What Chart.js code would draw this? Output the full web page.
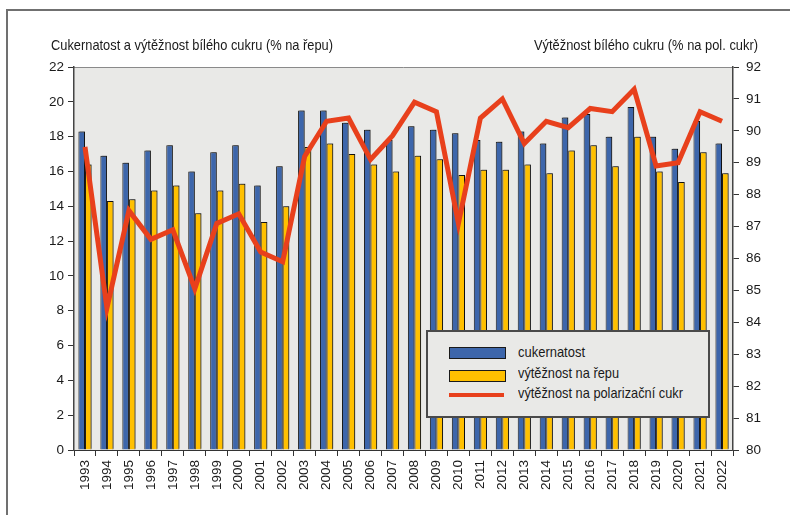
<!DOCTYPE html>
<html>
<head>
<meta charset="utf-8">
<script src="https://cdn.jsdelivr.net/npm/chart.js@4"></script>
<style>
  body { margin: 0; background: #fff; font-family: "Liberation Sans", Arial, sans-serif; }
  #wrap { position: relative; width: 790px; height: 515px; overflow: hidden; }
  #frame { position: absolute; left: 6px; top: 9px; width: 2000px; height: 2000px; border: 2px solid #707070; }
  .ttl { position: absolute; top: 36px; font-size: 15px; color: #1a1a1a; white-space: nowrap; transform-origin: 0 0; }
  #legend { position: absolute; left: 426px; top: 330px; width: 280px; height: 84px; background: #e9e9e7; border: 2px solid #4a4a4a; }
  .sw { position: absolute; left: 21px; width: 55px; height: 10px; border: 1px solid #1a1a1a; }
  .lt { position: absolute; left: 90px; font-size: 15px; color: #1a1a1a; white-space: nowrap; transform-origin: 0 0; }
</style>
</head>
<body>
<div id="wrap">
  <div id="frame"></div>
  <canvas id="chart" width="790" height="515" style="position:absolute;left:0;top:0"></canvas>
  <div class="ttl fit" data-w="282" style="left:51px">Cukernatost a výtěžnost bílého cukru (% na řepu)</div>
  <div class="ttl fit" data-w="224" style="left:534px">Výtěžnost bílého cukru (% na pol. cukr)</div>
  <div id="legend">
    <div class="sw" style="top:15px;background:#3d66ab"></div>
    <div class="lt fit" data-w="67" style="top:11px">cukernatost</div>
    <div class="sw" style="top:38px;background:#ffc000"></div>
    <div class="lt fit" data-w="101" style="top:32px">výtěžnost na řepu</div>
    <div class="sw" style="top:61px;height:4px;border:none;background:#e8401c"></div>
    <div class="lt fit" data-w="165" style="top:52px">výtěžnost na polarizační cukr</div>
  </div>
</div>
<script>
var years = ['1993','1994','1995','1996','1997','1998','1999','2000','2001','2002',
  '2003','2004','2005','2006','2007','2008','2009','2010','2011','2012',
  '2013','2014','2015','2016','2017','2018','2019','2020','2021','2022'];
var cukernatost = [18.3, 16.9, 16.5, 17.2, 17.5, 16.0, 17.1, 17.5, 15.2, 16.3,
  19.5, 19.5, 18.8, 18.4, 17.8, 18.6, 18.4, 18.2, 17.8, 17.7,
  18.3, 17.6, 19.1, 19.3, 18.0, 19.7, 18.0, 17.3, 18.9, 17.6];
var vytRepu = [16.4, 14.3, 14.4, 14.9, 15.2, 13.6, 14.9, 15.3, 13.1, 14.0,
  17.4, 17.6, 17.0, 16.4, 16.0, 16.9, 16.7, 15.8, 16.1, 16.1,
  16.4, 15.9, 17.2, 17.5, 16.3, 18.0, 16.0, 15.4, 17.1, 15.9];
var vytPolCukr = [89.5, 84.45, 87.5, 86.6, 86.9, 85.05, 87.1, 87.4, 86.2, 85.9,
  89.2, 90.3, 90.4, 89.1, 89.85, 90.9, 90.6, 87.1, 90.4, 91.0,
  89.6, 90.3, 90.1, 90.7, 90.6, 91.3, 88.9, 89.0, 90.6, 90.3];
var leftTicks = [0, 2, 4, 6, 8, 10, 12, 14, 16, 18, 20, 22];
var rightTicks = [80, 81, 82, 83, 84, 85, 86, 87, 88, 89, 90, 91, 92];

// squeeze the html texts to the narrow widths of the original
document.querySelectorAll('.fit').forEach(function (el) {
  var w = el.getBoundingClientRect().width;
  el.style.transform = 'scaleX(' + (el.dataset.w / w) + ')';
});

var tickFont = { family: '"Liberation Sans", Arial, sans-serif', size: 13.5 };

var plotBg = {
  id: 'plotBg',
  beforeDraw: function (chart) {
    var a = chart.chartArea, c = chart.ctx;
    c.save();
    c.fillStyle = '#e9e9e7';
    c.fillRect(a.left, a.top, a.right - a.left, a.bottom - a.top);
    c.strokeStyle = '#8a8a8a';
    c.lineWidth = 1;
    c.beginPath();
    c.moveTo(a.left, a.top + 0.5);
    c.lineTo(a.right, a.top + 0.5);
    c.stroke();
    c.restore();
  },
  beforeDatasetDraw: function (chart, args) {
    if (args.meta.type !== 'bar') return;
    var c = chart.ctx;
    c.save();
    c.shadowColor = 'rgba(0,0,0,0.35)';
    c.shadowOffsetX = 1.5;
    c.shadowOffsetY = -1;
    c.shadowBlur = 0;
  },
  afterDatasetDraw: function (chart, args) {
    if (args.meta.type !== 'bar') return;
    chart.ctx.restore();
  }
};

new Chart(document.getElementById('chart'), {
  data: {
    labels: years,
    datasets: [{
      type: 'line',
      label: 'výtěžnost na polarizační cukr',
      data: vytPolCukr,
      yAxisID: 'y1',
      borderColor: '#e8401c',
      borderWidth: 5,
      pointRadius: 0,
      tension: 0,
      order: 0
    }, {
      type: 'bar',
      label: 'cukernatost',
      data: cukernatost,
      yAxisID: 'y',
      backgroundColor: '#3d66ab',
      borderColor: '#1a1a1a',
      borderWidth: 1,
      categoryPercentage: 0.6,
      barPercentage: 1.0,
      order: 1
    }, {
      type: 'bar',
      label: 'výtěžnost na řepu',
      data: vytRepu,
      yAxisID: 'y',
      backgroundColor: '#ffc000',
      borderColor: '#1a1a1a',
      borderWidth: 1,
      categoryPercentage: 0.6,
      barPercentage: 1.0,
      order: 1
    }]
  },
  options: {
    responsive: false,
    animation: false,
    layout: { padding: { top: 67, left: 0, right: 0, bottom: 0 } },
    plugins: { legend: { display: false }, tooltip: { enabled: false } },
    scales: {
      x: {
        offset: true,
        grid: { offset: true, drawOnChartArea: false, tickLength: 6, color: '#333' },
        border: { color: '#333', width: 1 },
        ticks: { font: tickFont, color: '#1a1a1a', maxRotation: 90, minRotation: 90, padding: 4, autoSkip: false },
        afterFit: function (s) { s.height = 65; }
      },
      y: {
        position: 'left',
        min: 0, max: 22,
        afterBuildTicks: function (s) { s.ticks = leftTicks.map(function (v) { return { value: v }; }); },
        grid: { drawOnChartArea: false, tickLength: 6, color: '#333' },
        border: { color: '#444', width: 1.5 },
        ticks: { font: tickFont, color: '#1a1a1a', padding: 4 },
        afterFit: function (s) { s.width = 74; }
      },
      y1: {
        position: 'right',
        min: 80, max: 92,
        afterBuildTicks: function (s) { s.ticks = rightTicks.map(function (v) { return { value: v }; }); },
        grid: { drawOnChartArea: false, tickLength: 6, color: '#333' },
        border: { color: '#444', width: 1.5 },
        ticks: { font: tickFont, color: '#1a1a1a', padding: 7 },
        afterFit: function (s) { s.width = 57; }
      }
    }
  },
  plugins: [plotBg]
});
</script>
</body>
</html>
